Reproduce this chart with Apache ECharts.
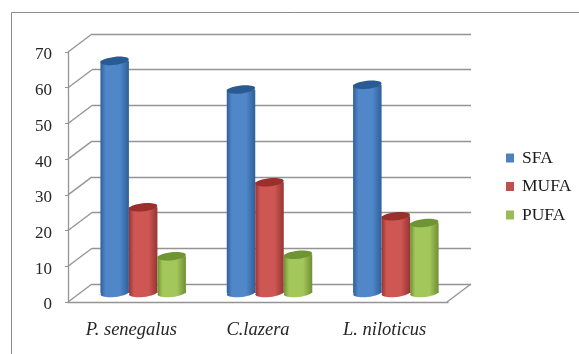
<!DOCTYPE html>
<html>
<head>
<meta charset="utf-8">
<style>html,body{margin:0;padding:0;background:#fff}#chart{width:579px;height:354px}</style>
<script src="https://cdn.jsdelivr.net/npm/echarts@6/dist/echarts.min.js"></script>
</head>
<body>
<div id="chart"></div>
<script>
// Fatty acid composition per fish species
const categories = ['P. senegalus', 'C.lazera', 'L. niloticus'];
const sfa = [65, 57, 58.3];
const mufa = [24, 31, 21.5];
const pufa = [10.3, 10.7, 19.6];
const yTicks = [0, 70, 10];

// Pseudo-3D box: the back wall is one grid, the front plane another, offset by this depth
const depthX = -24, depthY = 18;
const barWidth = 28.5;
const gridColor = '#949494';

const palettes = {
  SFA:  {flat: '#4f81bd', edge: '#2f5f99', mid: '#4f87c9', top: '#2a5a93'},
  MUFA: {flat: '#c0504d', edge: '#963533', mid: '#cf5753', top: '#9a2f2c'},
  PUFA: {flat: '#9bbb59', edge: '#6f8f33', mid: '#a3c75a', top: '#6f9433'}
};

function cylinder(name, slot) {
  return function (params, api) {
    const p = palettes[name];
    const cat = api.value(0);
    const topPt = api.coord([cat, api.value(1)]);
    const basePt = api.coord([cat, 0]);
    const cx = topPt[0] + depthX / 2 + slot * barWidth;
    const yTop = topPt[1] + depthY / 2;
    const yBase = basePt[1] + depthY / 2;
    const rx = barWidth / 2, ry = 4, tilt = 0.11;
    const side = new echarts.graphic.LinearGradient(0, 0, 1, 0, [
      {offset: 0, color: p.edge},
      {offset: 0.18, color: p.mid},
      {offset: 0.68, color: p.mid},
      {offset: 1, color: p.edge}
    ]);
    const ellipse = (cy, fill) => ({
      type: 'ellipse',
      originX: cx, originY: cy, rotation: tilt,
      shape: {cx: cx, cy: cy, rx: rx, ry: ry},
      style: {fill: fill}
    });
    return {
      type: 'group',
      children: [
        ellipse(yBase, side),
        {type: 'rect', shape: {x: cx - rx, y: yTop, width: barWidth, height: yBase - yTop}, style: {fill: side}},
        ellipse(yTop, p.top)
      ]
    };
  };
}

// Left wall diagonals, and the floor's right edge
function wallLines(params, api) {
  const v = api.value(1);
  const band = api.size([1, 0])[0];
  const back = api.coord([0, v]);
  const x = back[0] - band / 2;
  return {
    type: 'line',
    shape: {x1: x, y1: back[1], x2: x + depthX, y2: back[1] + depthY},
    style: {stroke: gridColor, lineWidth: 1.3}
  };
}
function floorEdge(params, api) {
  const band = api.size([1, 0])[0];
  const back = api.coord([2, 0]);
  const x = back[0] + band / 2;
  return {
    type: 'line',
    shape: {x1: x, y1: back[1], x2: x + depthX, y2: back[1] + depthY},
    style: {stroke: gridColor, lineWidth: 1.3}
  };
}

const wallTicks = [];
for (let v = yTicks[0]; v <= yTicks[1]; v += yTicks[2]) wallTicks.push([0, v]);

const labelFont = {fontFamily: 'Liberation Serif', color: '#262626'};

const barSeries = (name, values, slot) => ({
  name: name,
  type: 'custom',
  xAxisIndex: 0,
  yAxisIndex: 0,
  z: 5 + slot,
  clip: false,
  itemStyle: {color: palettes[name].flat},
  encode: {x: 0, y: 1},
  data: values.map((v, i) => [i, v]),
  renderItem: cylinder(name, slot)
});

const chart = echarts.init(document.getElementById('chart'), null, {renderer: 'canvas'});
chart.setOption({
  animation: false,
  backgroundColor: '#fff',
  graphic: [
    // Chart-area frame, running off the right and bottom of the page
    {type: 'polyline', silent: true, z: 0,
     shape: {points: [[11.5, 354], [11.5, 12.5], [579, 12.5]]},
     style: {stroke: '#8c8c8c', lineWidth: 1, fill: 'none'}}
  ],
  legend: {
    orient: 'vertical',
    left: 501,
    top: 144,
    itemWidth: 8,
    itemHeight: 9,
    itemGap: 10.5,
    icon: 'rect',
    data: ['SFA', 'MUFA', 'PUFA'],
    textStyle: {fontFamily: 'Liberation Serif', fontSize: 17.5, color: '#1c1c1c', padding: [0, 0, 0, 3]}
  },
  grid: [
    {left: 92, right: 108, top: 34, bottom: 70},
    {left: 68, right: 131, top: 52, bottom: 52}
  ],
  xAxis: [
    {type: 'category', gridIndex: 0, data: categories, boundaryGap: true,
     axisLine: {show: false}, axisTick: {show: false}, axisLabel: {show: false}},
    {type: 'category', gridIndex: 1, data: categories, boundaryGap: true,
     axisLine: {lineStyle: {color: gridColor, width: 1.3}},
     axisTick: {length: 6, alignWithLabel: false, lineStyle: {color: gridColor}},
     axisLabel: Object.assign({fontSize: 18.5, fontStyle: 'italic', margin: 19}, labelFont)}
  ],
  yAxis: [
    {type: 'value', gridIndex: 0, min: yTicks[0], max: yTicks[1], interval: yTicks[2],
     axisLine: {show: false}, axisTick: {show: false}, axisLabel: {show: false},
     splitLine: {lineStyle: {color: gridColor, width: 1.3}}},
    {type: 'value', gridIndex: 1, min: yTicks[0], max: yTicks[1], interval: yTicks[2],
     axisLine: {show: true, lineStyle: {color: gridColor, width: 1.3}},
     axisTick: {show: true, length: 3, lineStyle: {color: gridColor}},
     splitLine: {show: false},
     axisLabel: Object.assign({fontSize: 17, margin: 16, verticalAlign: 'top', lineHeight: 6}, labelFont)}
  ],
  series: [
    {type: 'custom', xAxisIndex: 0, yAxisIndex: 0, z: 2, silent: true, clip: false,
     encode: {x: 0, y: 1}, data: wallTicks, renderItem: wallLines},
    {type: 'custom', xAxisIndex: 0, yAxisIndex: 0, z: 2, silent: true, clip: false,
     encode: {x: 0, y: 1}, data: [[2, 0]], renderItem: floorEdge},
    barSeries('SFA', sfa, -1),
    barSeries('MUFA', mufa, 0),
    barSeries('PUFA', pufa, 1)
  ]
});
</script>
</body>
</html>
